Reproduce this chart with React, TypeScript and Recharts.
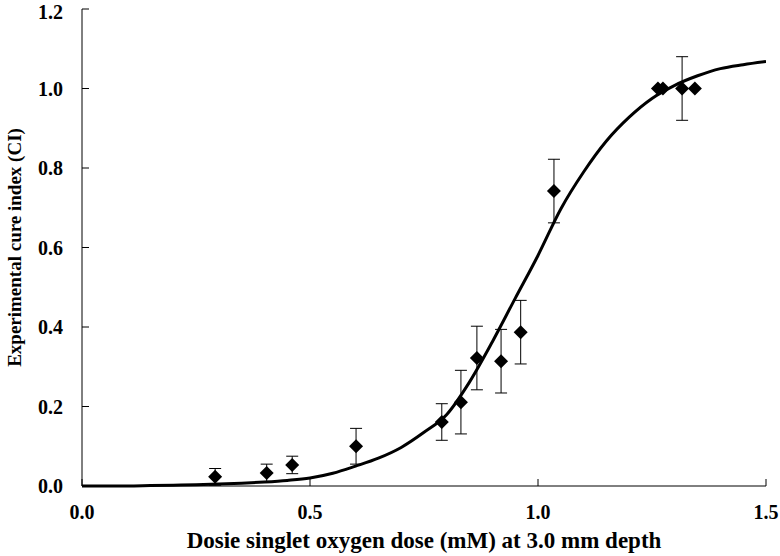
import React from 'react';
import { ComposedChart, Line, Scatter, XAxis, YAxis, ErrorBar } from 'recharts';

// measured points (dose, CI, error)
const doses = [0.292, 0.405, 0.461, 0.601, 0.789, 0.831, 0.866, 0.919, 0.962, 1.035, 1.263, 1.274, 1.316, 1.344];
const cureIndex = [0.023, 0.033, 0.053, 0.1, 0.161, 0.211, 0.322, 0.314, 0.387, 0.742, 1.0, 1.0, 1.0, 1.0];
const cureError = [0.021, 0.022, 0.022, 0.045, 0.046, 0.08, 0.08, 0.08, 0.08, 0.08, 0, 0, 0.08, 0];

// fitted curve
const fitDoses = [0, 0.05, 0.1, 0.15, 0.2, 0.25, 0.3, 0.35, 0.4, 0.45, 0.5, 0.55, 0.6, 0.65, 0.7, 0.75, 0.8, 0.85, 0.9, 0.95, 1.0, 1.05, 1.1, 1.15, 1.2, 1.25, 1.3, 1.35, 1.4, 1.45, 1.5];
const fitCI = [0, 0, 0, 0.001, 0.002, 0.003, 0.005, 0.007, 0.01, 0.014, 0.02, 0.032, 0.05, 0.07, 0.097, 0.135, 0.18, 0.262, 0.363, 0.472, 0.58, 0.697, 0.79, 0.868, 0.928, 0.975, 1.008, 1.032, 1.05, 1.06, 1.068];

const xTicks = [0, 0.5, 1.0, 1.5];
const yTicks = [0, 0.2, 0.4, 0.6, 0.8, 1.0, 1.2];

const points = doses.map((x, i) => ({ x, y: cureIndex[i], err: cureError[i] }));
const fit = fitDoses.map((x, i) => ({ x, fit: fitCI[i] }));

const font = { fontFamily: '"Liberation Serif", "Times New Roman", serif', fontWeight: 'bold', fontSize: 20, fill: '#000' };

function Diamond(props: any) {
  const { cx, cy } = props;
  const r = 7;
  return (
    <polygon
      points={`${cx},${cy - r} ${cx + r},${cy} ${cx},${cy + r} ${cx - r},${cy}`}
      fill="#000"
    />
  );
}

function YTitle(props: any) {
  const vb = props.viewBox || {};
  const x = (vb.x ?? 0) + 14;
  const y = (vb.y ?? 0) + (vb.height ?? 0) / 2;
  return (
    <text
      x={x}
      y={y}
      transform={`rotate(-90, ${x}, ${y})`}
      textAnchor="middle"
      dominantBaseline="central"
      style={{ ...font, fontSize: 19 }}
    >
      Experimental cure index (CI)
    </text>
  );
}

export default function App() {
  return (
    <div style={{ position: 'absolute', left: 0, top: 0, background: '#fff' }}>
      <ComposedChart width={780} height={556} margin={{ top: 9, right: 14, bottom: 0, left: 0 }}>
        <XAxis
          type="number"
          dataKey="x"
          domain={[0, 1.5]}
          ticks={xTicks}
          tickFormatter={(v) => v.toFixed(1)}
          tick={font}
          tickSize={-7}
          tickMargin={26}
          height={70}
          stroke="#000"
          allowDataOverflow
          label={{ value: 'Dosie singlet oxygen dose (mM) at 3.0 mm depth', position: 'insideBottom', offset: 8, style: { ...font, fontSize: 23 } }}
        />
        <YAxis
          type="number"
          domain={[0, 1.2]}
          ticks={yTicks}
          tickFormatter={(v) => v.toFixed(1)}
          tick={font}
          tickSize={-7}
          tickMargin={26}
          width={82}
          stroke="#000"
          label={<YTitle />}
        />
        <Line
          data={fit}
          dataKey="fit"
          type="monotone"
          stroke="#000"
          strokeWidth={3}
          dot={false}
          activeDot={false}
          isAnimationActive={false}
        />
        <Scatter data={points} dataKey="y" shape={<Diamond />} isAnimationActive={false}>
          <ErrorBar dataKey="err" direction="y" width={6} stroke="#000" strokeWidth={1} />
        </Scatter>
      </ComposedChart>
    </div>
  );
}
